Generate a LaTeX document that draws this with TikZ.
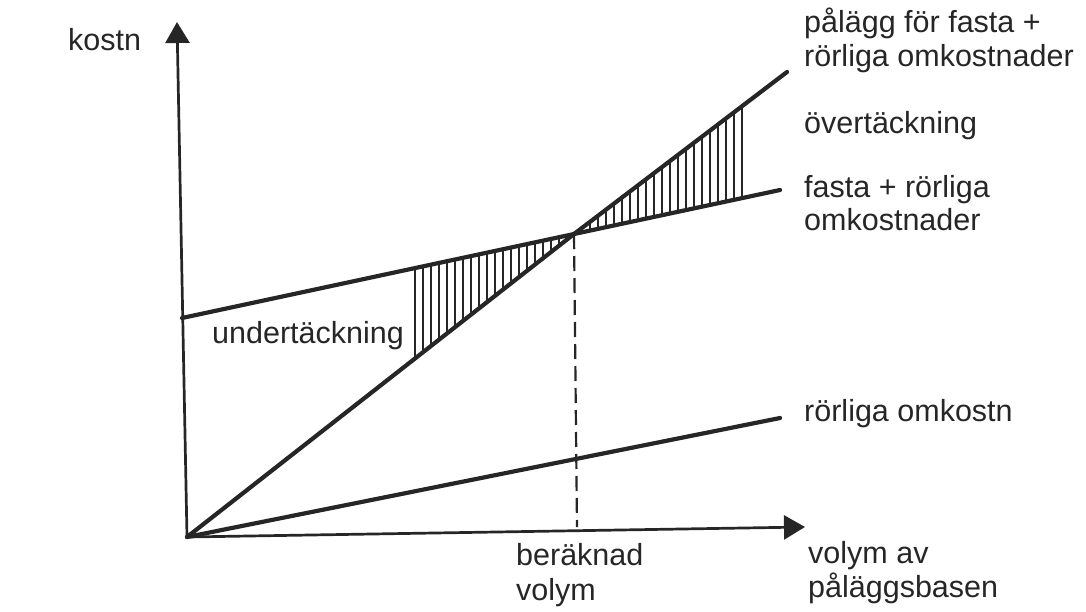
\documentclass[tikz,border=0pt]{standalone}
\usepackage{fontspec}
\setmainfont{Liberation Sans}
\usetikzlibrary{arrows.meta}
\definecolor{ink}{HTML}{262626}
\begin{document}
\begin{tikzpicture}[x=1pt,y=-1pt,
  axis/.style={draw=ink,line width=2.7pt,-{Triangle[length=21pt,width=24pt]}},
  curve/.style={draw=ink,line width=4.2pt,line cap=round},
  hatch/.style={draw=ink,line width=2.2pt},
  guide/.style={draw=ink,line width=2.2pt,dash pattern=on 15pt off 7pt},
  lbl/.style={inner sep=0pt,anchor=base west,text=ink,font=\fontsize{30.5}{35}\selectfont}]
\useasboundingbox (0,0) rectangle (1086,611);

% axes
\coordinate (O) at (187,537);
\coordinate (Ytip) at (177,22);
\coordinate (Xtip) at (805,527);
\draw[axis] (O) -- (Ytip);
\draw[axis] (O) -- (Xtip);

% cost lines
\coordinate (A) at (182,318);   % fixed + variable, start on the cost axis
\coordinate (K) at (574,234);   % break-even at the computed volume
\coordinate (B) at (780,190);   % fixed + variable, end
\coordinate (C) at (787,72);    % overhead rate line, end
\coordinate (R) at (780,418);   % variable costs, end
\coordinate (Kx) at (577,527);  % foot of the guide on the volume axis

\draw[curve] (A) -- (K) -- (B);
\draw[curve] (O) -- (K) -- (C);
\draw[curve] (O) -- (R);
\draw[guide] (K) -- (Kx);

% under-coverage hatching
\foreach \x in {415,423,...,567}
  \draw[hatch] (\x,{318+(\x-182)*(-84/392)}) -- (\x,{537+(\x-187)*(-303/387)});
% over-coverage hatching
\foreach \x in {742,734,...,582}
  \draw[hatch] (\x,{234+(\x-574)*(-162/213)}) -- (\x,{234+(\x-574)*(-44/206)});

% labels
\node[lbl] (kostn) at (68,50) {kostn};
\node[lbl] (pal1) at (804,32) {pålägg för fasta +};
\node[lbl] (pal2) at (804,66) {rörliga omkostnader};
\node[lbl] (over) at (804,133) {övertäckning};
\node[lbl] (fr1) at (804,197) {fasta + rörliga};
\node[lbl] (fr2) at (804,230) {omkostnader};
\node[lbl] (under) at (212,343) {undertäckning};
\node[lbl] (rorl) at (804,421) {rörliga omkostn};
\node[lbl] (ber1) at (516,565) {beräknad};
\node[lbl] (ber2) at (516,600) {volym};
\node[lbl] (vol1) at (808,563) {volym av};
\node[lbl] (vol2) at (808,597) {påläggsbasen};
\end{tikzpicture}
\end{document}
